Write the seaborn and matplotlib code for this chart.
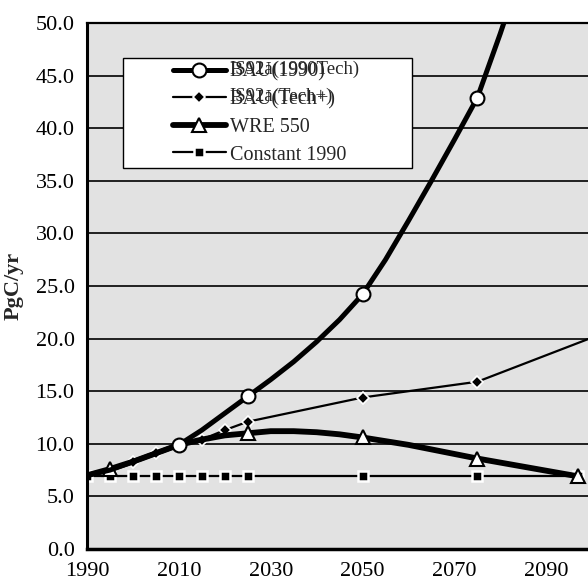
import matplotlib
matplotlib.use('Agg')
import matplotlib.pyplot as plt
from matplotlib.patches import Rectangle
from matplotlib.ticker import MultipleLocator, FormatStrFormatter
import seaborn as sns

# BAU(1990) / IS92a(1990Tech) - thick line, open circles
bau_years = [1990, 1995, 2000, 2005, 2010, 2015, 2020, 2025, 2030, 2035, 2040,
             2045, 2050, 2055, 2060, 2065, 2070, 2075, 2080, 2085]
bau_vals = [7.0, 7.5, 8.3, 9.1, 9.9, 11.3, 12.9, 14.5, 16.1, 17.8, 19.7,
            21.8, 24.2, 27.5, 31.2, 35.0, 38.9, 42.9, 49.0, 55.5]
bau_marks = [2010, 2025, 2050, 2075]

# BAU(Tech+) / IS92a(Tech+) - thin line, diamonds
tech_years = [1990, 1995, 2000, 2005, 2010, 2015, 2020, 2025, 2050, 2075, 2100]
tech_vals = [7.0, 7.5, 8.3, 9.1, 9.9, 10.4, 11.3, 12.1, 14.4, 15.9, 20.1]
tech_marks = [2000, 2005, 2015, 2020, 2025, 2050, 2075]

# WRE 550 - thick line, open triangles
wre_years = [1990, 1995, 2000, 2005, 2010, 2015, 2020, 2025, 2030, 2035, 2040,
             2045, 2050, 2060, 2075, 2097]
wre_vals = [7.0, 7.6, 8.3, 9.1, 9.9, 10.4, 10.8, 11.0, 11.2, 11.2, 11.1,
            10.9, 10.6, 9.9, 8.6, 6.9]
wre_marks = [1995, 2025, 2050, 2075, 2097]

# Constant 1990 - thin line, squares
const_years = [1990, 1995, 2000, 2005, 2010, 2015, 2020, 2025, 2050, 2075, 2097]
const_vals = [6.9] * len(const_years)

labels = ['BAU(1990)', 'BAU(Tech+)', 'WRE 550', 'Constant 1990']
overlay_labels = ['IS92a(1990Tech)', 'IS92a(Tech+)']

sns.set_style('white')
plt.rcParams['font.family'] = ['Liberation Serif', 'DejaVu Serif']

fig = plt.figure(figsize=(5.88, 5.81), dpi=100)
ax = fig.add_axes([0.148, 0.0551, 0.852, 0.9053])
ax.set_facecolor('#e2e2e2')


def idx(years, marks):
    return [years.index(m) for m in marks]


handles = []
sns.lineplot(x=const_years, y=const_vals, ax=ax, color='black', lw=1.6,
             marker='s', ms=7, mfc='black', mec='white', mew=1.8,
             estimator=None, sort=False, label=labels[3])
handles.append(ax.lines[-1])
sns.lineplot(x=tech_years, y=tech_vals, ax=ax, color='black', lw=1.6,
             marker='D', ms=6, mfc='black', mec='white', mew=1.2,
             markevery=idx(tech_years, tech_marks),
             estimator=None, sort=False, label=labels[1])
handles.append(ax.lines[-1])
sns.lineplot(x=wre_years, y=wre_vals, ax=ax, color='black', lw=4.2,
             marker='^', ms=10, mfc='white', mec='black', mew=1.5,
             markevery=idx(wre_years, wre_marks),
             estimator=None, sort=False, label=labels[2])
handles.append(ax.lines[-1])
sns.lineplot(x=bau_years, y=bau_vals, ax=ax, color='black', lw=3.6,
             marker='o', ms=10, mfc='white', mec='black', mew=1.5,
             markevery=idx(bau_years, bau_marks),
             estimator=None, sort=False, label=labels[0])
handles.append(ax.lines[-1])

ax.set_xlim(1990, 2099.1)
ax.set_ylim(0, 50)
ax.set_xticks(range(1990, 2091, 20))
ax.yaxis.set_major_locator(MultipleLocator(5))
ax.yaxis.set_major_formatter(FormatStrFormatter('%.1f'))
ax.grid(axis='y', color='black', lw=1.2)
ax.set_axisbelow(True)
ax.tick_params(axis='x', direction='inout', length=7, width=1.5, pad=6,
               labelsize=16, colors='black')
ax.tick_params(axis='y', direction='out', length=4, width=1.2, pad=5,
               labelsize=16, colors='black')
ax.set_xlabel('')
ax.set_ylabel('PgC/yr', fontsize=16, fontweight='bold')
ax.yaxis.set_label_coords(-0.126, 0.5)

for side in ['left', 'bottom', 'top']:
    ax.spines[side].set_color('black')
ax.spines['left'].set_linewidth(2.2)
ax.spines['bottom'].set_linewidth(2.5)
ax.spines['top'].set_linewidth(1.6)
ax.spines['right'].set_visible(False)

# legend: white box with thin frame
box = Rectangle((0.072, 0.724), 0.577, 0.209, transform=ax.transAxes,
                facecolor='white', edgecolor='black', lw=1.0, zorder=5)
ax.add_patch(box)
order = [handles[3], handles[1], handles[2], handles[0]]
leg = ax.legend(order, labels, loc='upper left', bbox_to_anchor=(0.172, 0.925),
                frameon=False, borderpad=0, borderaxespad=0, handlelength=2.6,
                handletextpad=0.2, labelspacing=0.42, fontsize=14.5)
leg.set_zorder(6)

# overprinted labels of the scanned legend
fig.canvas.draw()
renderer = fig.canvas.get_renderer()
W, H = fig.bbox.width, fig.bbox.height
for txt, lab in zip(leg.get_texts()[:2], overlay_labels):
    bb = txt.get_window_extent(renderer)
    fig.text(bb.x0 / W, (bb.y0 + 4) / H, lab, fontsize=13.5, va='bottom',
             ha='left', zorder=7)

fig.savefig('out.png', dpi=100)
